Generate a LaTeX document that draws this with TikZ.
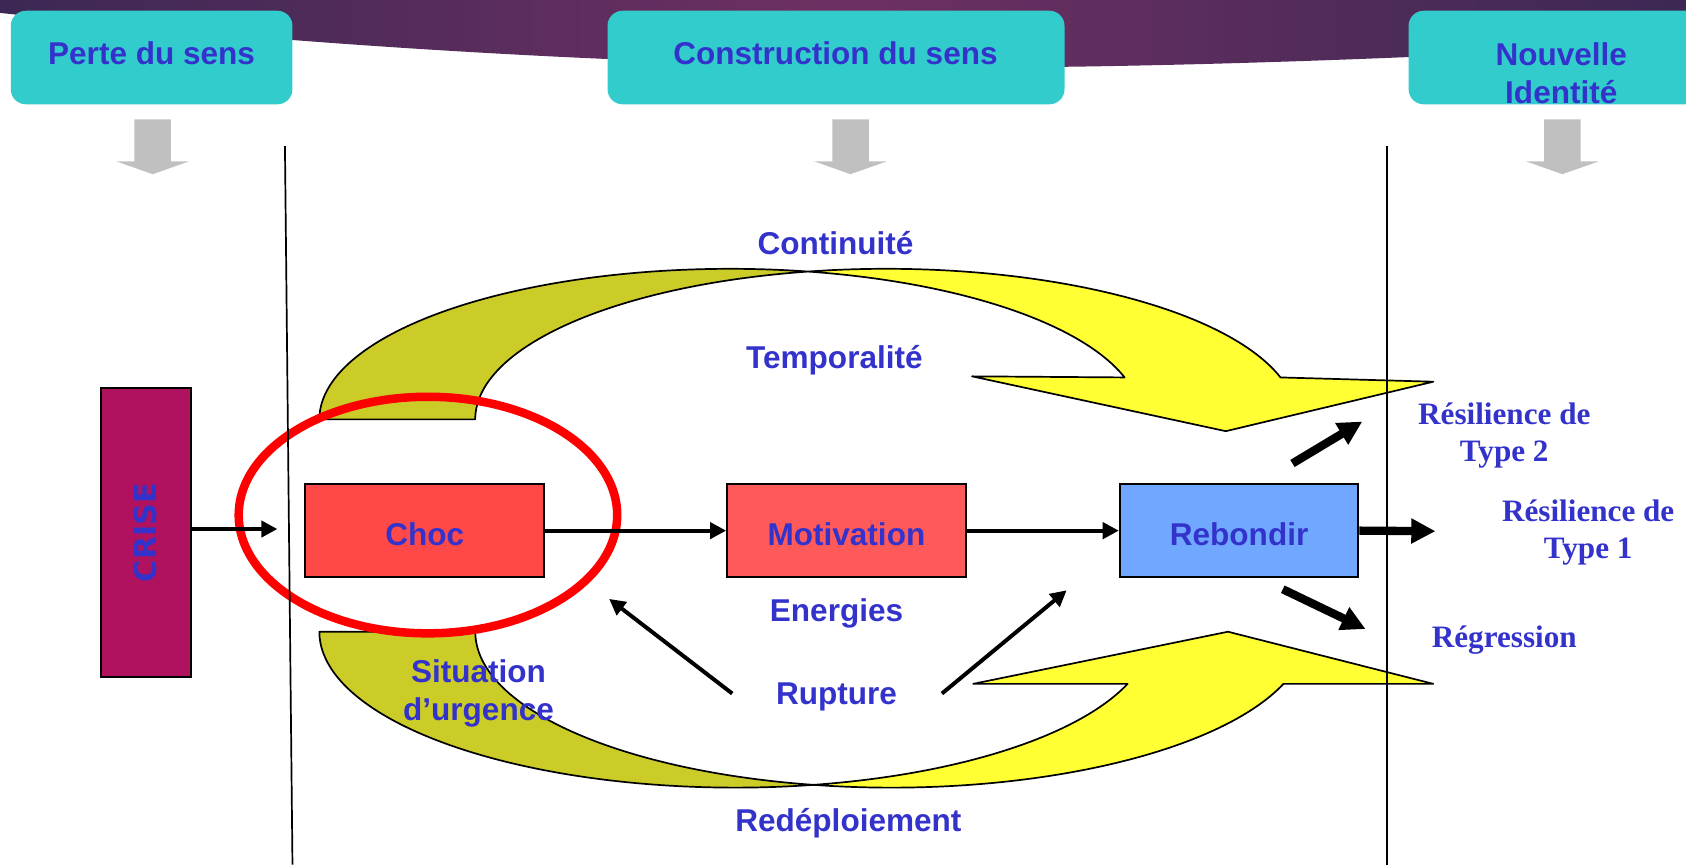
\documentclass[tikz,border=0pt]{standalone}
\usepackage{fontspec}
\setsansfont{Liberation Sans}
\newfontfamily\serifbold{Liberation Serif}
\newfontfamily\crisefont{DejaVu Sans}
\usetikzlibrary{arrows.meta,calc,positioning}
\definecolor{txtblue}{RGB}{51,51,204}
\definecolor{phaseteal}{RGB}{51,204,204}
\definecolor{bannerdark}{RGB}{60,40,84}
\definecolor{bannerlight}{RGB}{110,48,98}
\definecolor{chocred}{RGB}{255,72,72}
\definecolor{motivred}{RGB}{255,90,90}
\definecolor{rebondblue}{RGB}{112,168,255}
\definecolor{crisemag}{RGB}{176,18,96}
\definecolor{backolive}{RGB}{204,204,41}
\definecolor{frontyellow}{RGB}{255,255,51}
\definecolor{hintgray}{RGB}{192,192,192}

\begin{document}
\begin{tikzpicture}[x=0.02cm, y=-0.02cm,
        lbl/.style={font=\sffamily\bfseries\fontsize{16.7}{20.4}\selectfont, text=txtblue, inner sep=0pt, anchor=base},
        outlbl/.style={font=\serifbold\bfseries\fontsize{16.5}{19.8}\selectfont, text=txtblue, inner sep=0pt, align=center},
        phase/.style={fill=phaseteal, rounded corners=0.28cm},
        stage/.style={draw, line width=1pt, minimum width=4.44cm, minimum height=1.74cm, inner sep=0pt, text height=16pt, text depth=0pt, font=\sffamily\bfseries\fontsize{16.7}{20.4}\selectfont, text=txtblue},
        flow/.style={-{Triangle[length=0.3cm, width=0.3cm]}, line width=2.1pt},
        bigflow/.style={-{Triangle[length=0.45cm, width=0.44cm]}, line width=4.4pt},
        band/.style={draw=black, line width=0.9pt, line join=round},
        divider/.style={line width=0.9pt}
    ]
    \useasboundingbox (0,0) rectangle (1568,804);
    \clip (0,0) rectangle (1568,804);

    % Banner
    \shade[left color=bannerdark, right color=bannerdark, middle color=bannerlight]
        (0,0) -- (1568,0) -- (1568,40) .. controls (1400,50) and (1200,59) .. (1000,62)
        .. controls (700,66) and (350,50) .. (0,12) -- cycle;

    % Phases
    \fill[phase] (10,10) rectangle (272,97);
    \fill[phase] (565,10) rectangle (990,97);
    \fill[phase] (1310,10) rectangle (1620,97);
    \node[lbl] (perte) at (141,60) {Perte du sens};
    \node[lbl] (construction) at (777,60) {Construction du sens};
    \node[lbl, anchor=center, align=center] (nouvelle) at (1452,68) {Nouvelle\\Identité};

    % Gray pointers
    \foreach \cx in {142,791,1453}
        \fill[hintgray] (\cx-17,111) -- (\cx+17,111) -- (\cx+17,150) -- (\cx+34,150)
            -- (\cx,162) -- (\cx-34,150) -- (\cx-17,150) -- cycle;

    % Upper curved band
    \coordinate (ctA) at (679,390);
    \coordinate (ctB) at (824,390);
    \filldraw[band, fill=backolive] ($(ctA)+(180:382 and 140)$)
        arc[start angle=180, end angle=280.94, x radius=382, y radius=140]
        arc[start angle=259.06, end angle=180, x radius=382, y radius=140] -- cycle;
    \filldraw[band, fill=frontyellow] ($(ctB)+(259.06:382 and 140)$)
        arc[start angle=259.06, end angle=343.83, x radius=382, y radius=140]
        -- (1333,355) -- (1140,401) -- (904,350) -- ($(ctA)+(343.83:382 and 140)$)
        arc[start angle=343.83, end angle=280.94, x radius=382, y radius=140] -- cycle;

    % Lower curved band
    \coordinate (rdA) at (684,587.5);
    \coordinate (rdB) at (829,587.5);
    \filldraw[band, fill=backolive] ($(rdA)+(180:387 and 145)$)
        arc[start angle=180, end angle=79.2, x radius=387, y radius=145]
        arc[start angle=100.8, end angle=180, x radius=387, y radius=145] -- cycle;
    \filldraw[band, fill=frontyellow] ($(rdB)+(100.8:387 and 145)$)
        arc[start angle=100.8, end angle=19.54, x radius=387, y radius=145]
        -- (1333,636) -- (1142,587.5) -- (905,636) -- ($(rdA)+(19.54:387 and 145)$)
        arc[start angle=19.54, end angle=79.2, x radius=387, y radius=145] -- cycle;

    % Highlight
    \draw[red, line width=4.5pt] (398,479) ellipse[x radius=176, y radius=110];

    % Stages
    \node[draw, line width=1pt, fill=crisemag, rotate=90, minimum width=5.39cm, minimum height=1.68cm,
        inner sep=0pt, text=txtblue, font=\crisefont\bfseries\fontsize{16}{19}\selectfont] (crise) at (135.6,495.3) {CRISE};
    \node[stage, fill=chocred] (choc) at (395,493.5) {Choc};
    \node[stage, fill=motivred, right=3.37cm of choc] (motivation) {Motivation};
    \node[stage, fill=rebondblue, right=2.83cm of motivation] (rebondir) {Rebondir};

    % Dividers
    \draw[divider] (265,136) -- (272,804);
    \draw[divider] (1290,136) -- (1290,804);

    % Arrows
    \coordinate (criseend) at (258,492);
    \draw[flow] (crise.south |- criseend) -- (criseend);
    \draw[flow] (choc) -- (motivation);
    \draw[flow] (motivation) -- (rebondir);
    \coordinate (rupleft) at (681,645);
    \coordinate (rupleftend) at (566.5,557);
    \coordinate (rupright) at (876,645);
    \coordinate (uprightend) at (992,549);
    \draw[flow] (rupleft) -- (rupleftend);
    \draw[flow] (rupright) -- (uprightend);
    \coordinate (type2start) at (1202,431);
    \coordinate (type2end) at (1267,392);
    \coordinate (type1end) at (1335,494);
    \coordinate (regstart) at (1193,548);
    \coordinate (regend) at (1270,585);
    \draw[bigflow] (type2start) -- (type2end);
    \draw[bigflow] (rebondir.east) -- (type1end);
    \draw[bigflow] (regstart) -- (regend);

    % Labels
    \node[lbl] (continuite) at (777,237) {Continuité};
    \node[lbl] (temporalite) at (776,343) {Temporalité};
    \node[lbl] (energies) at (778,578) {Energies};
    \node[lbl] (rupture) at (778,655) {Rupture};
    \node[lbl, anchor=center, align=center] (urgence) at (445,645) {Situation\\d’urgence};
    \node[lbl] (redeploiement) at (789,773) {Redéploiement};
    \node[outlbl] (type2) at (1399,405) {Résilience de\\Type 2};
    \node[outlbl] (type1) at (1477,495) {Résilience de\\Type 1};
    \node[outlbl, anchor=base] (regression) at (1399,602) {Régression};

\end{tikzpicture}
\end{document}
